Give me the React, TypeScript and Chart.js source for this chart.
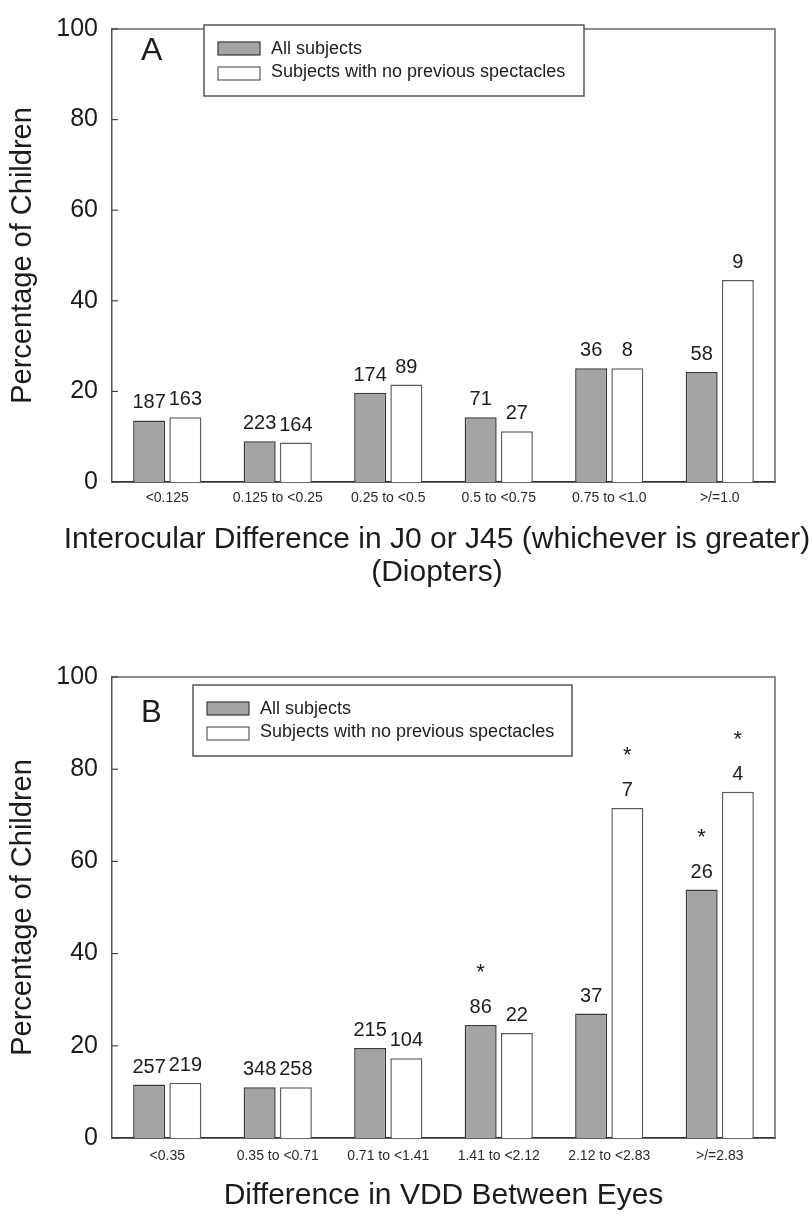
import React, { useEffect, useRef } from "react";
import { Chart, registerables } from "chart.js";

Chart.register(...registerables);

// ---------- Data ----------
const categoriesA = ["<0.125", "0.125 to <0.25", "0.25 to <0.5", "0.5 to <0.75", "0.75 to <1.0", ">/=1.0"];
const allSubjectsA = [13.6, 9.0, 19.7, 14.3, 25.1, 24.3];
const noSpectaclesA = [14.3, 8.7, 21.5, 11.2, 25.1, 44.6];
const countsAllA = ["187", "223", "174", "71", "36", "58"];
const countsNoSpecA = ["163", "164", "89", "27", "8", "9"];
const starsAllA = [false, false, false, false, false, false];
const starsNoSpecA = [false, false, false, false, false, false];
const xTitleA = ["Interocular Difference in J0 or J45 (whichever is greater)", "(Diopters)"];

const categoriesB = ["<0.35", "0.35 to <0.71", "0.71 to <1.41", "1.41 to <2.12", "2.12 to <2.83", ">/=2.83"];
const allSubjectsB = [11.6, 11.0, 19.5, 24.5, 27.0, 53.9];
const noSpectaclesB = [12.0, 11.0, 17.3, 22.8, 71.6, 75.1];
const countsAllB = ["257", "348", "215", "86", "37", "26"];
const countsNoSpecB = ["219", "258", "104", "22", "7", "4"];
const starsAllB = [false, false, false, true, false, true];
const starsNoSpecB = [false, false, false, false, true, true];
const xTitleB = ["Difference in VDD Between Eyes"];

const yTickValues = [0, 20, 40, 60, 80, 100];
const seriesLabels = ["All subjects", "Subjects with no previous spectacles"];
const yTitle = "Percentage of Children";

const FONT = "'Liberation Sans', Arial, Helvetica, sans-serif";
const GRAY_FILL = "#a4a4a4";
const GRAY_BORDER = "#3a3a3a";
const WHITE_BORDER = "#5c5c5c";
const TEXT = "#1c1c1c";

type PanelProps = {
  letter: string;
  categories: string[];
  all: number[];
  noSpec: number[];
  countsAll: string[];
  countsNo: string[];
  starsAll: boolean[];
  starsNo: boolean[];
  xTitle: string[];
  xTitleCenter: number;
  xTitleY: number[];
  padTop: number;
  plotBottom: number;
  canvasHeight: number;
  tickPad: number;
  letterBaseline: number;
  letterSize: number;
  legendBox: { x: number; y: number; w: number; h: number };
};

function Panel(p: PanelProps) {
  const ref = useRef<HTMLCanvasElement | null>(null);

  useEffect(() => {
    const canvas = ref.current;
    if (!canvas) return;

    const overlay = {
      id: "overlay",
      afterDatasetsDraw(chart: any) {
        const ctx = chart.ctx as CanvasRenderingContext2D;
        const area = chart.chartArea;
        const yScale = chart.scales.y;
        ctx.save();

        // frame top & right
        ctx.strokeStyle = "#6a6a6a";
        ctx.lineWidth = 1.5;
        ctx.beginPath();
        ctx.moveTo(area.left, area.top);
        ctx.lineTo(area.right, area.top);
        ctx.lineTo(area.right, area.bottom);
        ctx.stroke();

        // inward y ticks
        ctx.strokeStyle = "#444";
        ctx.lineWidth = 1.2;
        yTickValues.forEach((v) => {
          const y = yScale.getPixelForValue(v);
          ctx.beginPath();
          ctx.moveTo(area.left, y);
          ctx.lineTo(area.left + 6, y);
          ctx.stroke();
        });

        // count labels + asterisks
        const drawLabels = (dsIndex: number, counts: string[], stars: boolean[]) => {
          const meta = chart.getDatasetMeta(dsIndex);
          meta.data.forEach((el: any, i: number) => {
            const top = el.y;
            ctx.fillStyle = TEXT;
            ctx.textAlign = "center";
            ctx.textBaseline = "alphabetic";
            ctx.font = `20px ${FONT}`;
            ctx.fillText(counts[i], el.x, top - 12);
            if (stars[i]) {
              ctx.font = `22px ${FONT}`;
              ctx.fillText("*", el.x, top - 46);
            }
          });
        };
        drawLabels(0, p.countsAll, p.starsAll);
        drawLabels(1, p.countsNo, p.starsNo);

        // panel letter
        ctx.fillStyle = TEXT;
        ctx.textAlign = "left";
        ctx.textBaseline = "alphabetic";
        ctx.font = `${p.letterSize}px ${FONT}`;
        ctx.fillText(p.letter, 141, p.letterBaseline);

        // x-axis title (drawn without width constraint)
        ctx.font = `30px ${FONT}`;
        ctx.textAlign = "center";
        ctx.textBaseline = "middle";
        p.xTitle.forEach((line, i) => {
          ctx.fillText(line, p.xTitleCenter, p.xTitleY[i]);
        });

        // legend box
        const b = p.legendBox;
        ctx.fillStyle = "#ffffff";
        ctx.fillRect(b.x, b.y, b.w, b.h);
        ctx.strokeStyle = "#555";
        ctx.lineWidth = 1.5;
        ctx.strokeRect(b.x, b.y, b.w, b.h);
        const rows = [
          { fill: GRAY_FILL, stroke: GRAY_BORDER, label: seriesLabels[0], sy: b.y + 17, ty: b.y + 29 },
          { fill: "#ffffff", stroke: WHITE_BORDER, label: seriesLabels[1], sy: b.y + 42, ty: b.y + 52 },
        ];
        ctx.textBaseline = "alphabetic";
        rows.forEach((r) => {
          ctx.fillStyle = r.fill;
          ctx.fillRect(b.x + 14, r.sy, 42, 13);
          ctx.strokeStyle = r.stroke;
          ctx.lineWidth = 1.2;
          ctx.strokeRect(b.x + 14, r.sy, 42, 13);
          ctx.fillStyle = TEXT;
          ctx.font = `18px ${FONT}`;
          ctx.textAlign = "left";
          ctx.fillText(r.label, b.x + 67, r.ty);
        });

        ctx.restore();
      },
    };

    const xHeight = p.canvasHeight - p.plotBottom;

    const chart = new Chart(canvas, {
      type: "bar",
      data: {
        labels: p.categories,
        datasets: [
          {
            label: seriesLabels[0],
            data: p.all,
            backgroundColor: GRAY_FILL,
            borderColor: GRAY_BORDER,
            borderWidth: 1.5,
            categoryPercentage: 0.655,
            barPercentage: 0.885,
          },
          {
            label: seriesLabels[1],
            data: p.noSpec,
            backgroundColor: "#ffffff",
            borderColor: WHITE_BORDER,
            borderWidth: 1.5,
            categoryPercentage: 0.655,
            barPercentage: 0.885,
          },
        ],
      },
      options: {
        responsive: false,
        animation: false,
        devicePixelRatio: 1,
        layout: { padding: { top: p.padTop, right: 37, left: 0, bottom: 0 } },
        plugins: { legend: { display: false }, tooltip: { enabled: false } },
        scales: {
          x: {
            grid: { display: false, drawTicks: false },
            border: { display: true, color: "#333", width: 1.8 },
            ticks: {
              color: "#2a2a2a",
              font: { family: FONT, size: 14 },
              padding: p.tickPad,
              maxRotation: 0,
              autoSkip: false,
            },
            title: { display: false },
            afterFit: (scale: any) => {
              scale.height = xHeight;
            },
          },
          y: {
            min: 0,
            max: 100,
            grid: { display: false, drawTicks: false },
            border: { display: true, color: "#555", width: 1.5 },
            ticks: {
              stepSize: 20,
              color: TEXT,
              font: { family: FONT, size: 25 },
              padding: 14,
            },
            title: {
              display: true,
              text: yTitle,
              color: TEXT,
              font: { family: FONT, size: 29, lineHeight: 1.2 },
              padding: { top: 6, bottom: 0 },
            },
            afterFit: (scale: any) => {
              scale.width = 112;
            },
          },
        },
      },
      plugins: [overlay],
    } as any);

    return () => chart.destroy();
  }, []);

  return (
    <canvas
      ref={ref}
      width={812}
      height={p.canvasHeight}
      style={{ display: "block", width: 812, height: p.canvasHeight }}
    />
  );
}

export default function App() {
  useEffect(() => {
    document.body.style.margin = "0";
    document.body.style.background = "#ffffff";
  }, []);

  return (
    <div style={{ width: 812, height: 1216, background: "#fff" }}>
      <Panel
        letter="A"
        categories={categoriesA}
        all={allSubjectsA}
        noSpec={noSpectaclesA}
        countsAll={countsAllA}
        countsNo={countsNoSpecA}
        starsAll={starsAllA}
        starsNo={starsNoSpecA}
        xTitle={xTitleA}
        xTitleCenter={437}
        xTitleY={[540, 573]}
        padTop={17}
        plotBottom={482}
        canvasHeight={608}
        tickPad={8}
        letterBaseline={60}
        letterSize={32}
        legendBox={{ x: 204, y: 25, w: 380, h: 71 }}
      />
      <Panel
        letter="B"
        categories={categoriesB}
        all={allSubjectsB}
        noSpec={noSpectaclesB}
        countsAll={countsAllB}
        countsNo={countsNoSpecB}
        starsAll={starsAllB}
        starsNo={starsNoSpecB}
        xTitle={xTitleB}
        xTitleCenter={443.5}
        xTitleY={[588]}
        padTop={69}
        plotBottom={530}
        canvasHeight={608}
        tickPad={10}
        letterBaseline={114}
        letterSize={31}
        legendBox={{ x: 193, y: 77, w: 379, h: 71 }}
      />
    </div>
  );
}
